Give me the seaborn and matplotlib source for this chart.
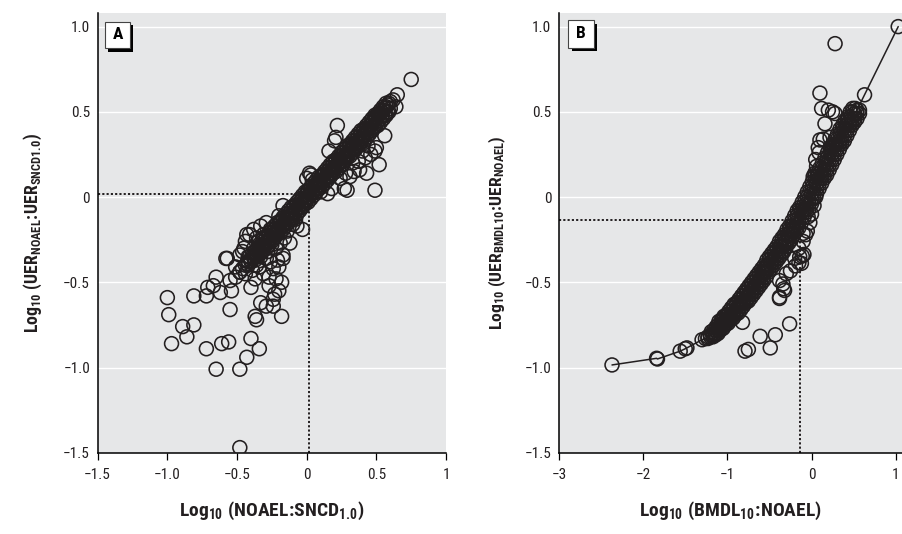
import matplotlib
matplotlib.use("Agg")
import matplotlib.pyplot as plt
from matplotlib import font_manager as fm
from matplotlib.patches import Rectangle
import pandas as pd
import seaborn as sns

# ---------------- Panel A: NOAEL:SNCD1.0 vs UER ratio ----------------
# central ridge of the cloud
a_band_x = [-0.48, -0.46, -0.44, -0.42, -0.40, -0.38, -0.36, -0.34, -0.32, -0.30,
            -0.28, -0.26, -0.24, -0.22, -0.20, -0.18, -0.16, -0.14, -0.12, -0.10,
            -0.08, -0.06, -0.04, -0.02, 0.00, 0.02, 0.04, 0.06, 0.08, 0.10,
            0.12, 0.14, 0.16, 0.18, 0.20, 0.22, 0.24, 0.26, 0.28, 0.30,
            0.32, 0.34, 0.36, 0.38, 0.40, 0.42, 0.44, 0.46, 0.48, 0.50,
            0.52, 0.54, 0.56, 0.58, 0.60, 0.62]
a_band_y = [-0.44, -0.42, -0.40, -0.38, -0.37, -0.35, -0.33, -0.31, -0.29, -0.27,
            -0.26, -0.24, -0.22, -0.20, -0.18, -0.17, -0.15, -0.13, -0.11, -0.09,
            -0.07, -0.06, -0.04, -0.02, 0.00, 0.02, 0.03, 0.05, 0.07, 0.09,
            0.10, 0.12, 0.14, 0.16, 0.18, 0.19, 0.21, 0.23, 0.25, 0.27,
            0.29, 0.31, 0.32, 0.34, 0.36, 0.38, 0.40, 0.42, 0.44, 0.46,
            0.48, 0.50, 0.52, 0.54, 0.56, 0.57]
a_upper_x = [-0.31, -0.29, -0.27, -0.25, -0.23, -0.21, -0.19, -0.17, -0.15, -0.13,
             -0.11, -0.09, -0.07, -0.05, -0.03, -0.01, 0.01, 0.03, 0.05, 0.07,
             0.09, 0.11, 0.13, 0.15, 0.17, 0.19, 0.21, 0.23, 0.25, 0.27,
             0.29, 0.31, 0.33, 0.35, 0.37, 0.39, 0.41, 0.43, 0.45, 0.47,
             0.49, 0.51, 0.53, 0.55, 0.57]
a_upper_y = [-0.24, -0.23, -0.21, -0.19, -0.17, -0.15, -0.14, -0.12, -0.10, -0.08,
             -0.06, -0.05, -0.03, -0.01, 0.01, 0.03, 0.04, 0.06, 0.08, 0.10,
             0.12, 0.13, 0.15, 0.17, 0.19, 0.21, 0.22, 0.24, 0.26, 0.28,
             0.30, 0.31, 0.33, 0.35, 0.37, 0.39, 0.40, 0.42, 0.44, 0.46,
             0.48, 0.49, 0.51, 0.53, 0.55]
a_midup_x = [-0.41, -0.39, -0.37, -0.35, -0.33, -0.31, -0.29, -0.27, -0.25, -0.23,
             -0.21, -0.19, -0.17, -0.15, -0.13, -0.11, -0.09, -0.07, -0.05, -0.03,
             -0.01, 0.01, 0.03, 0.05, 0.07, 0.09, 0.11, 0.13, 0.15, 0.17,
             0.19, 0.21, 0.23, 0.25, 0.27, 0.29, 0.31, 0.33, 0.35, 0.37,
             0.39, 0.41, 0.43, 0.45, 0.47, 0.49, 0.51, 0.53, 0.55, 0.57, 0.59]
a_midup_y = [-0.35, -0.33, -0.32, -0.30, -0.28, -0.26, -0.24, -0.23, -0.21, -0.19,
             -0.17, -0.15, -0.14, -0.12, -0.10, -0.08, -0.06, -0.05, -0.03, -0.01,
             0.01, 0.03, 0.04, 0.06, 0.08, 0.10, 0.12, 0.13, 0.15, 0.17,
             0.19, 0.21, 0.22, 0.24, 0.26, 0.28, 0.30, 0.31, 0.33, 0.35,
             0.37, 0.39, 0.40, 0.42, 0.44, 0.46, 0.48, 0.49, 0.51, 0.53, 0.55]
a_midlo_x = [-0.42, -0.40, -0.38, -0.36, -0.34, -0.32, -0.30, -0.28, -0.26, -0.24,
             -0.22, -0.20, -0.18, -0.16, -0.14, -0.12, -0.10, -0.08, -0.06, -0.04,
             -0.02, 0.00, 0.02, 0.04, 0.06, 0.08, 0.10, 0.12, 0.14, 0.16,
             0.18, 0.20, 0.22, 0.24, 0.26, 0.28, 0.30, 0.32, 0.34, 0.36,
             0.38, 0.40, 0.42, 0.44, 0.46, 0.48, 0.50, 0.52, 0.54, 0.56,
             0.58, 0.60]
a_midlo_y = [-0.40, -0.38, -0.36, -0.34, -0.33, -0.31, -0.29, -0.27, -0.25, -0.24,
             -0.22, -0.20, -0.18, -0.16, -0.15, -0.13, -0.11, -0.09, -0.07, -0.06,
             -0.04, -0.02, 0.00, 0.02, 0.03, 0.05, 0.07, 0.09, 0.11, 0.12,
             0.14, 0.16, 0.18, 0.20, 0.21, 0.23, 0.25, 0.27, 0.29, 0.30,
             0.32, 0.34, 0.36, 0.38, 0.39, 0.41, 0.43, 0.45, 0.47, 0.48,
             0.50, 0.52]
a_lower_x = [-0.37, -0.35, -0.33, -0.31, -0.29, -0.27, -0.25, -0.23, -0.21, -0.19,
             -0.17, -0.15, -0.13, -0.11, -0.09, -0.07, -0.05, -0.03, -0.01, 0.01,
             0.03, 0.05, 0.07, 0.09, 0.11, 0.13, 0.15, 0.17, 0.19, 0.21,
             0.23, 0.25, 0.27, 0.29, 0.31, 0.33, 0.35, 0.37, 0.39, 0.41,
             0.43, 0.45, 0.47, 0.49, 0.51, 0.53, 0.55, 0.57, 0.59]
a_lower_y = [-0.37, -0.35, -0.33, -0.31, -0.30, -0.28, -0.26, -0.24, -0.22, -0.21,
             -0.19, -0.17, -0.15, -0.13, -0.12, -0.10, -0.08, -0.06, -0.04, -0.03,
             -0.01, 0.01, 0.03, 0.05, 0.06, 0.08, 0.10, 0.12, 0.14, 0.15,
             0.17, 0.19, 0.21, 0.23, 0.24, 0.26, 0.28, 0.30, 0.32, 0.33,
             0.35, 0.37, 0.39, 0.41, 0.42, 0.44, 0.46, 0.48, 0.50]
# chemicals away from the ridge
a_out_x = [0.75, 0.65, 0.64, 0.22, 0.21, 0.20, 0.16, 0.56, 0.50, 0.49,
           0.52, 0.43, 0.49, 0.29, 0.27, 0.03, 0.04, 0.38, 0.42, 0.46,
           0.37, 0.34, 0.31, 0.18, 0.15, 0.49, 0.54, 0.44, 0.40, 0.33,
           0.28, 0.24, 0.10, 0.00, 0.02,
           -0.03, -0.07, -0.17, -0.33, -0.29, -0.43, -0.44, -0.57, -0.48, -0.33,
           -0.17, -0.36, -0.24,
           -1.00, -0.99, -0.97, -0.89, -0.81, -0.86, -0.81, -0.72, -0.72, -0.65,
           -0.48, -0.61, -0.56, -0.43, -0.40, -0.34, -0.48, -0.55, -0.58, -0.67,
           -0.65, -0.71, -0.62, -0.54, -0.55, -0.51, -0.40, -0.33, -0.29, -0.37,
           -0.36, -0.24, -0.23, -0.24, -0.18, -0.18, -0.20, -0.27, -0.20, -0.17,
           -0.43, -0.39, -0.34, -0.29, -0.46, -0.51,
           -0.45, -0.42, -0.38, -0.35, -0.31, -0.28, -0.25, -0.22, -0.26, -0.21,
           -0.19, -0.16, -0.14, -0.12, -0.31, -0.27, -0.22, -0.37, -0.44, -0.48,
           -0.41, -0.38, -0.33, -0.10, -0.08, -0.20, -0.26, -0.36]
a_out_y = [0.69, 0.60, 0.53, 0.42, 0.35, 0.33, 0.27, 0.36, 0.29, 0.27,
           0.19, 0.14, 0.04, 0.04, 0.05, 0.13, 0.10, 0.16, 0.23, 0.25,
           0.21, 0.15, 0.12, 0.05, 0.02, 0.47, 0.48, 0.30, 0.27, 0.20,
           0.14, 0.11, 0.03, 0.11, 0.14,
           -0.19, -0.17, -0.05, -0.17, -0.15, -0.22, -0.26, -0.36, -0.34, -0.29,
           -0.36, -0.40, -0.42,
           -0.59, -0.69, -0.86, -0.76, -0.75, -0.82, -0.58, -0.58, -0.89, -1.01,
           -1.01, -0.86, -0.85, -0.94, -0.83, -0.89, -1.47, -0.66, -0.36, -0.52,
           -0.47, -0.53, -0.56, -0.55, -0.49, -0.47, -0.53, -0.62, -0.64, -0.70,
           -0.72, -0.64, -0.57, -0.60, -0.70, -0.50, -0.55, -0.47, -0.41, -0.34,
           -0.39, -0.43, -0.41, -0.36, -0.32, -0.41,
           -0.30, -0.35, -0.30, -0.26, -0.22, -0.32, -0.28, -0.30, -0.38, -0.37,
           -0.27, -0.24, -0.20, -0.27, -0.45, -0.52, -0.48, -0.48, -0.45, -0.44,
           -0.22, -0.19, -0.35, -0.16, -0.13, -0.11, -0.19, -0.24]
a_ref_x, a_ref_y = 0.02, 0.016

# ---------------- Panel B: BMDL10:NOAEL vs UER ratio ----------------
b_tail_left_x = [-2.37, -1.84, -1.83, -1.56, -1.50, -1.48, -1.30]
b_tail_left_y = [-0.985, -0.946, -0.95, -0.904, -0.89, -0.885, -0.837]
b_tail_right_x = [0.63, 1.03]
b_tail_right_y = [0.60, 1.00]
b_mid_x = [-1.26, -1.23, -1.20, -1.17, -1.14, -1.11, -1.08, -1.05, -1.02, -0.99,
           -0.96, -0.93, -0.90, -0.87, -0.84, -0.81, -0.78, -0.75, -0.72, -0.69,
           -0.66, -0.63, -0.60, -0.57, -0.54, -0.51, -0.48, -0.45, -0.42, -0.39,
           -0.36, -0.33, -0.30, -0.27, -0.24, -0.21, -0.18, -0.15, -0.12, -0.09,
           -0.06, -0.03, 0.00, 0.03, 0.06, 0.09, 0.12, 0.15, 0.18, 0.21,
           0.24, 0.27, 0.30, 0.33, 0.36, 0.39, 0.42, 0.45, 0.48, 0.51, 0.54]
b_mid_y = [-0.83, -0.82, -0.81, -0.80, -0.78, -0.77, -0.75, -0.74, -0.72, -0.71,
           -0.69, -0.68, -0.66, -0.64, -0.62, -0.61, -0.59, -0.57, -0.55, -0.53,
           -0.51, -0.49, -0.47, -0.44, -0.42, -0.40, -0.38, -0.36, -0.34, -0.32,
           -0.29, -0.27, -0.25, -0.22, -0.20, -0.18, -0.15, -0.12, -0.09, -0.07,
           -0.04, -0.01, 0.02, 0.05, 0.08, 0.11, 0.13, 0.16, 0.19, 0.22,
           0.25, 0.28, 0.31, 0.33, 0.36, 0.39, 0.42, 0.44, 0.46, 0.49, 0.51]
b_left_x = [-1.10, -1.07, -1.04, -1.01, -0.98, -0.95, -0.92, -0.89, -0.86, -0.83,
            -0.80, -0.77, -0.74, -0.71, -0.68, -0.65, -0.62, -0.59, -0.56, -0.53,
            -0.50, -0.47, -0.44, -0.41, -0.38, -0.35, -0.32, -0.29, -0.26, -0.23,
            -0.20, -0.17, -0.14, -0.11, -0.08, -0.05, -0.02, 0.01, 0.04, 0.07,
            0.10, 0.13, 0.16, 0.19, 0.22, 0.25, 0.28, 0.31, 0.34, 0.37,
            0.40, 0.43, 0.46, 0.49]
b_left_y = [-0.73, -0.72, -0.70, -0.69, -0.67, -0.65, -0.63, -0.62, -0.60, -0.58,
            -0.56, -0.54, -0.52, -0.50, -0.48, -0.46, -0.44, -0.42, -0.40, -0.37,
            -0.35, -0.33, -0.31, -0.29, -0.26, -0.24, -0.22, -0.19, -0.17, -0.14,
            -0.11, -0.08, -0.06, -0.03, 0.00, 0.03, 0.06, 0.09, 0.12, 0.14,
            0.17, 0.20, 0.23, 0.26, 0.29, 0.31, 0.34, 0.37, 0.40, 0.42,
            0.45, 0.47, 0.50, 0.52]
b_midleft_x = [-1.19, -1.16, -1.13, -1.10, -1.07, -1.04, -1.01, -0.98, -0.95, -0.92,
               -0.89, -0.86, -0.83, -0.80, -0.77, -0.74, -0.71, -0.68, -0.65, -0.62,
               -0.59, -0.56, -0.53, -0.50, -0.47, -0.44, -0.41, -0.38, -0.35, -0.32,
               -0.29, -0.26, -0.23, -0.20, -0.17, -0.14, -0.11, -0.08, -0.05, -0.02,
               0.01, 0.04, 0.07, 0.10, 0.13, 0.16, 0.19, 0.22, 0.25, 0.28,
               0.31, 0.34, 0.37, 0.40, 0.43, 0.46, 0.49, 0.52]
b_midleft_y = [-0.79, -0.78, -0.76, -0.75, -0.73, -0.72, -0.70, -0.69, -0.67, -0.65,
               -0.63, -0.62, -0.60, -0.58, -0.56, -0.54, -0.52, -0.50, -0.48, -0.46,
               -0.44, -0.42, -0.40, -0.37, -0.35, -0.33, -0.31, -0.29, -0.26, -0.24,
               -0.22, -0.19, -0.17, -0.14, -0.11, -0.08, -0.06, -0.03, 0.00, 0.03,
               0.06, 0.09, 0.12, 0.14, 0.17, 0.20, 0.23, 0.26, 0.29, 0.31,
               0.34, 0.37, 0.40, 0.42, 0.45, 0.47, 0.50, 0.52]
b_midright_x = [-1.23, -1.20, -1.17, -1.14, -1.11, -1.08, -1.05, -1.02, -0.99, -0.96,
                -0.93, -0.90, -0.87, -0.84, -0.81, -0.78, -0.75, -0.72, -0.69, -0.66,
                -0.63, -0.60, -0.57, -0.54, -0.51, -0.48, -0.45, -0.42, -0.39, -0.36,
                -0.33, -0.30, -0.27, -0.24, -0.21, -0.18, -0.15, -0.12, -0.09, -0.06,
                -0.03, 0.00, 0.03, 0.06, 0.09, 0.12, 0.15, 0.18, 0.21, 0.24,
                0.27, 0.30, 0.33, 0.36, 0.39, 0.42, 0.45, 0.48, 0.51, 0.54, 0.57]
b_midright_y = [-0.83, -0.82, -0.81, -0.80, -0.78, -0.77, -0.75, -0.74, -0.72, -0.71,
                -0.69, -0.68, -0.66, -0.64, -0.62, -0.61, -0.59, -0.57, -0.55, -0.53,
                -0.51, -0.49, -0.47, -0.44, -0.42, -0.40, -0.38, -0.36, -0.34, -0.32,
                -0.29, -0.27, -0.25, -0.22, -0.20, -0.18, -0.15, -0.12, -0.09, -0.07,
                -0.04, -0.01, 0.02, 0.05, 0.08, 0.11, 0.13, 0.16, 0.19, 0.22,
                0.25, 0.28, 0.31, 0.33, 0.36, 0.39, 0.42, 0.44, 0.46, 0.49, 0.51]
b_right_x = [-1.17, -1.14, -1.11, -1.08, -1.05, -1.02, -0.99, -0.96, -0.93, -0.90,
             -0.87, -0.84, -0.81, -0.78, -0.75, -0.72, -0.69, -0.66, -0.63, -0.60,
             -0.57, -0.54, -0.51, -0.48, -0.45, -0.42, -0.39, -0.36, -0.33, -0.30,
             -0.27, -0.24, -0.21, -0.18, -0.15, -0.12, -0.09, -0.06, -0.03, 0.00,
             0.03, 0.06, 0.09, 0.12, 0.15, 0.18, 0.21, 0.24, 0.27, 0.30,
             0.33, 0.36, 0.39, 0.42, 0.45, 0.48, 0.51, 0.54, 0.57]
b_right_y = [-0.82, -0.81, -0.80, -0.78, -0.77, -0.75, -0.74, -0.72, -0.71, -0.69,
             -0.68, -0.66, -0.64, -0.62, -0.61, -0.59, -0.57, -0.55, -0.53, -0.51,
             -0.49, -0.47, -0.44, -0.42, -0.40, -0.38, -0.36, -0.34, -0.32, -0.29,
             -0.27, -0.25, -0.22, -0.20, -0.18, -0.15, -0.12, -0.09, -0.07, -0.04,
             -0.01, 0.02, 0.05, 0.08, 0.11, 0.13, 0.16, 0.19, 0.22, 0.25,
             0.28, 0.31, 0.33, 0.36, 0.39, 0.42, 0.44, 0.46, 0.49]
b_out_x = [0.28, 0.10, 0.12, 0.20, 0.25, 0.28, 0.16, 0.10, 0.14, 0.22,
           0.08, 0.05, 0.06, 0.04, 0.02, 0.09,
           -0.82, -0.61, -0.43, -0.49, -0.79, -0.75, -0.26,
           -0.38, -0.38, -0.34, -0.32, -0.38, -0.33, -0.25, -0.19, -0.11, -0.15,
           -0.07, -0.09, -0.14, -0.12, -0.04, -0.10,
           -0.05, -0.02, 0.00, -0.10, -0.15, -0.20, -0.30, 0.03, 0.05]
b_out_y = [0.90, 0.61, 0.52, 0.51, 0.50, 0.49, 0.43, 0.335, 0.34, 0.35,
           0.29, 0.22, 0.18, 0.14, 0.12, 0.26,
           -0.735, -0.817, -0.808, -0.885, -0.904, -0.894, -0.744,
           -0.587, -0.595, -0.51, -0.548, -0.49, -0.538, -0.433, -0.404, -0.346, -0.385,
           -0.221, -0.337, -0.35, -0.389, -0.115, -0.213,
           -0.20, -0.15, -0.10, -0.26, -0.30, -0.36, -0.45, -0.05, 0.00]
b_ref_x, b_ref_y = -0.14, -0.134

# axis ticks
a_xticks = [-1.5, -1.0, -0.5, 0, 0.5, 1]
a_xticklabels = ["\u22121.5", "\u22121.0", "\u22120.5", "0", "0.5", "1"]
b_xticks = [-3, -2, -1, 0, 1]
b_xticklabels = ["\u22123", "\u22122", "\u22121", "0", "1"]
yticks = [1.0, 0.5, 0, -0.5, -1.0, -1.5]
yticklabels = ["1.0", "0.5", "0", "\u22120.5", "\u22121.0", "\u22121.5"]

# ---------------- styling ----------------
sns.set_theme(style="white")
installed = {f.name for f in fm.fontManager.ttflist}
narrow = next((n for n in ["Liberation Sans Narrow", "Roboto Condensed",
                           "Open Sans Condensed"] if n in installed), None)
family = narrow if narrow else "DejaVu Sans"
plt.rcParams["font.family"] = [family, "DejaVu Sans"]
if narrow is None:
    plt.rcParams["font.stretch"] = "condensed"
plt.rcParams["mathtext.fontset"] = "custom"
plt.rcParams["mathtext.rm"] = family
plt.rcParams["mathtext.bf"] = family + ":bold"
plt.rcParams["mathtext.it"] = family + ":italic"

BG = "#e6e7e8"
INK = "#231f20"

fig = plt.figure(figsize=(9.02, 5.34), dpi=100)
axA = fig.add_axes([0.1083, 0.1522, 0.3862, 0.8235])
axB = fig.add_axes([0.6197, 0.1522, 0.3803, 0.8235])


def frame(ax, xlim, xticks, xticklabels):
    ax.set_facecolor(BG)
    ax.set_xlim(*xlim)
    ax.set_ylim(-1.5, 1.08)
    ax.set_xticks(xticks)
    ax.set_xticklabels(xticklabels)
    ax.set_yticks(yticks)
    ax.set_yticklabels(yticklabels)
    for y in yticks[:-1]:
        ax.axhline(y, color="white", lw=1.0, zorder=0.5)
    for side in ("top", "right"):
        ax.spines[side].set_visible(False)
    for side in ("left", "bottom"):
        ax.spines[side].set_color("black")
        ax.spines[side].set_linewidth(1.1)
    ax.tick_params(axis="x", direction="out", length=5, width=0.9,
                   color="black", pad=6, labelsize=11, labelcolor=INK,
                   bottom=True)
    ax.tick_params(axis="y", length=0, pad=5.5, labelsize=11,
                   labelcolor=INK, left=True)


def tag(ax, letter, x0, y0, w, h):
    ax.add_patch(Rectangle((x0 + 0.010, y0 - 0.008), w, h, transform=ax.transAxes,
                           facecolor="black", edgecolor="none", zorder=6,
                           clip_on=False))
    ax.add_patch(Rectangle((x0, y0), w, h, transform=ax.transAxes,
                           facecolor="white", edgecolor="#444444", lw=0.8,
                           zorder=7, clip_on=False))
    ax.text(x0 + w / 2, y0 + h / 2, letter, transform=ax.transAxes,
            ha="center", va="center", fontsize=12.5, fontweight="bold",
            color="black", zorder=8)


marker_kw = dict(marker="o", s=100, facecolor="none", edgecolor=INK,
                 linewidth=1.15, zorder=4, legend=False)
dot_kw = dict(color=INK, lw=1.4, linestyle=(0, (1.1, 1.1)), zorder=1)

# ---- Panel A ----
frame(axA, (-1.5, 1.0), a_xticks, a_xticklabels)
df_a = pd.DataFrame({
    "x": a_band_x + a_upper_x + a_midup_x + a_midlo_x + a_lower_x + a_out_x,
    "y": a_band_y + a_upper_y + a_midup_y + a_midlo_y + a_lower_y + a_out_y,
})
axA.plot([-1.5, a_ref_x], [a_ref_y, a_ref_y], **dot_kw)
axA.plot([a_ref_x, a_ref_x], [-1.5, a_ref_y], **dot_kw)
sns.scatterplot(data=df_a, x="x", y="y", ax=axA, **marker_kw)
axA.set_xlabel(r"$\mathbf{Log_{10}\ (NOAEL\!:\!SNCD_{1.0})}$", fontsize=14,
               color=INK)
axA.set_ylabel(r"$\mathbf{Log_{10}\ (UER_{NOAEL}\!:\!UER_{SNCD1.0})}$",
               fontsize=12.8, color=INK)
axA.xaxis.set_label_coords(0.5, -0.108)
axA.yaxis.set_label_coords(-0.155, 0.5)
tag(axA, "A", 0.021, 0.9197, 0.0718, 0.0605)

# ---- Panel B ----
frame(axB, (-3.0, 1.075), b_xticks, b_xticklabels)
df_b = pd.DataFrame({
    "x": (b_tail_left_x + b_mid_x + b_left_x + b_midleft_x + b_midright_x
          + b_right_x + b_out_x + b_tail_right_x),
    "y": (b_tail_left_y + b_mid_y + b_left_y + b_midleft_y + b_midright_y
          + b_right_y + b_out_y + b_tail_right_y),
})
df_curve = pd.DataFrame({
    "x": b_tail_left_x + b_mid_x + b_tail_right_x,
    "y": b_tail_left_y + b_mid_y + b_tail_right_y,
})
axB.plot([-3.0, b_ref_x], [b_ref_y, b_ref_y], **dot_kw)
axB.plot([b_ref_x, b_ref_x], [-1.5, b_ref_y], **dot_kw)
sns.lineplot(data=df_curve, x="x", y="y", ax=axB, estimator=None, sort=True,
             color=INK, lw=1.1, zorder=3, legend=False)
sns.scatterplot(data=df_b, x="x", y="y", ax=axB, **marker_kw)
axB.set_xlabel(r"$\mathbf{Log_{10}\ (BMDL_{10}\!:\!NOAEL)}$", fontsize=14,
               color=INK)
axB.set_ylabel(r"$\mathbf{Log_{10}\ (UER_{BMDL10}\!:\!UER_{NOAEL})}$",
               fontsize=12.6, color=INK)
axB.xaxis.set_label_coords(0.5, -0.108)
axB.yaxis.set_label_coords(-0.149, 0.5)
tag(axB, "B", 0.027, 0.921, 0.075, 0.063)

fig.savefig("out.png", dpi=100, facecolor="white")
